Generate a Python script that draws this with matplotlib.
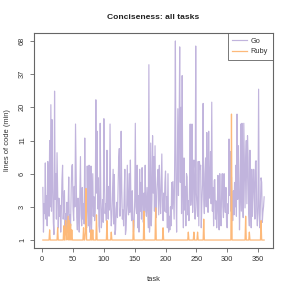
import numpy as np
import matplotlib
matplotlib.use("Agg")
import matplotlib.pyplot as plt

plt.rcParams['font.family'] = ['Liberation Sans', 'DejaVu Sans']

title = "Conciseness: all tasks"
xlabel = "task"
ylabel = "lines of code (min)"
ytick_labels = [1, 3, 6, 11, 20, 37, 68]
xticks = [0, 50, 100, 150, 200, 250, 300, 350]

go = [
    4.5, 1.3, 3.2, 2.4, 7.3, 2.0, 3.8, 1.6, 7.5, 5.0,
    2.2, 11.0, 3.0, 21.0, 2.6, 16.0, 4.5, 1.8, 1.2, 27.0,
    3.5, 6.0, 2.0, 8.8, 4.0, 1.5, 3.6, 2.2, 3.1, 1.3,
    2.6, 5.2, 7.0, 2.0, 3.0, 4.2, 1.5, 2.4, 1.2, 3.3,
    1.7, 2.9, 5.6, 1.4, 2.3, 1.6, 4.4, 6.9, 7.1, 2.8,
    1.9, 4.6, 3.0, 14.8, 6.0, 2.1, 1.4, 3.6, 2.5, 1.3,
    3.8, 8.2, 2.3, 1.6, 4.5, 2.0, 3.2, 1.7, 11.5, 3.0,
    2.4, 1.5, 6.9, 2.9, 1.6, 7.0, 1.3, 2.1, 6.9, 1.4,
    3.5, 6.0, 2.2, 3.7, 1.9, 2.6, 23.0, 4.0, 13.0, 2.8,
    5.5, 1.6, 1.3, 15.0, 4.0, 1.5, 2.2, 3.5, 1.8, 16.3,
    5.0, 2.4, 3.2, 1.9, 9.2, 3.6, 2.0, 4.6, 2.7, 14.8,
    3.0, 1.6, 2.3, 4.0, 6.5, 1.7, 5.9, 1.2, 1.4, 2.8,
    3.3, 2.1, 4.5, 7.7, 9.5, 2.2, 3.0, 13.0, 4.4, 2.0,
    2.7, 1.6, 4.0, 6.5, 1.2, 1.4, 2.9, 7.0, 3.1, 2.3,
    6.0, 2.5, 7.7, 3.0, 1.9, 4.2, 2.2, 1.3, 1.6, 3.4,
    15.0, 3.0, 2.4, 7.0, 1.5, 3.8, 1.3, 6.5, 2.6, 5.0,
    2.0, 6.7, 3.5, 1.8, 4.0, 2.5, 7.0, 3.0, 2.2, 4.5,
    2.8, 1.5, 44.0, 1.3, 2.0, 10.5, 1.6, 3.5, 12.0, 4.0,
    8.2, 2.6, 10.0, 3.0, 2.1, 4.3, 5.6, 6.5, 2.3, 7.0,
    3.8, 2.4, 4.7, 8.6, 3.0, 1.9, 4.0, 2.6, 5.0, 6.3,
    2.5, 3.7, 1.5, 6.0, 1.3, 2.2, 1.4, 3.0, 1.6, 5.0,
    2.8, 5.1, 3.5, 2.0, 9.0, 68.0, 4.5, 1.3, 7.0, 19.5,
    3.8, 12.0, 61.0, 5.0, 20.0, 2.4, 36.0, 4.0, 1.5, 8.0,
    2.7, 4.6, 1.6, 6.0, 5.6, 2.3, 3.4, 1.9, 5.0, 14.8,
    3.1, 4.0, 14.8, 2.5, 6.2, 7.7, 3.0, 2.0, 62.0, 4.0,
    3.0, 2.2, 7.5, 1.6, 7.5, 6.5, 7.0, 1.5, 3.3, 4.8,
    21.5, 3.5, 2.4, 6.0, 8.0, 3.0, 12.7, 4.0, 2.5, 13.0,
    3.6, 5.0, 9.0, 3.2, 22.0, 2.6, 4.5, 1.6, 5.2, 5.3,
    2.0, 3.4, 1.5, 2.8, 5.8, 2.0, 1.4, 6.0, 2.5, 1.6,
    4.0, 6.0, 3.0, 2.1, 6.0, 3.3, 2.5, 4.5, 1.8, 1.5,
    3.2, 2.4, 11.3, 3.8, 9.0, 2.6, 5.6, 3.0, 1.9, 4.2,
    2.3, 5.0, 3.0, 7.0, 2.2, 17.7, 3.5, 10.0, 5.0, 1.4,
    3.4, 14.8, 2.6, 15.0, 4.0, 2.1, 15.0, 7.0, 2.9, 7.6,
    11.0, 3.2, 12.0, 8.0, 2.4, 1.6, 9.2, 3.0, 1.5, 6.5,
    2.2, 3.6, 6.5, 4.5, 2.0, 7.5, 7.6, 2.6, 1.6, 3.0,
    28.0, 2.4, 1.5, 3.3, 5.5, 5.0, 1.8, 2.5, 3.0, 3.7,
]

# Ruby: value 1 everywhere except these tasks
ruby_spike_tasks = [12, 25, 35, 38, 39, 41, 42, 44, 46, 48, 67, 70, 71, 79, 82, 88,
                    105, 112, 148, 165, 184, 196, 237, 246, 252, 262, 307, 330, 336, 355]
ruby_spike_vals = [1.4, 1.5, 1.6, 1.9, 1.3, 1.5, 2.2, 1.9, 1.7, 1.4, 1.5, 1.3, 4.4, 1.4, 1.4, 2.3,
                   1.9, 1.3, 1.9, 2.6, 2.9, 1.5, 1.3, 1.3, 1.3, 2.0, 17.7, 2.2, 1.3, 1.9]

tasks = np.arange(1, len(go) + 1)
ruby = np.ones(len(go))
for t, v in zip(ruby_spike_tasks, ruby_spike_vals):
    ruby[t - 1] = v

logt = np.log(np.array(ytick_labels, dtype=float))
kpos = np.arange(len(ytick_labels), dtype=float)

def fwd(y):
    y = np.asarray(y, dtype=float)
    ly = np.log(np.clip(y, 1e-9, None))
    out = np.interp(ly, logt, kpos)
    lo = ly < logt[0]
    hi = ly > logt[-1]
    out = np.where(lo, (ly - logt[0]) / (logt[1] - logt[0]), out)
    out = np.where(hi, kpos[-1] + (ly - logt[-1]) / (logt[-1] - logt[-2]), out)
    return out

def inv(k):
    k = np.asarray(k, dtype=float)
    ly = np.interp(k, kpos, logt)
    ly = np.where(k < 0, logt[0] + k * (logt[1] - logt[0]), ly)
    ly = np.where(k > kpos[-1], logt[-1] + (k - kpos[-1]) * (logt[-1] - logt[-2]), ly)
    return np.exp(ly)

fig = plt.figure(figsize=(2.91, 2.91), dpi=100)
ax = fig.add_axes([34/291, 43/291, 239/291, 215/291])
ax.set_yscale('function', functions=(fwd, inv))

go_col = '#c1b4dd'
ruby_col = '#fdb97a'
ax.plot(tasks, go, color=go_col, lw=0.85, label='Go')
ax.plot(tasks, ruby, color=ruby_col, lw=0.9, label='Ruby')

pad = 0.04 * (len(go) - 1)
ax.set_xlim(1 - pad, len(go) + pad)
ax.set_ylim(inv(-0.24), inv(6.24))

ax.set_xticks(xticks)
ax.set_xticklabels([str(x) for x in xticks])
ax.set_yticks(ytick_labels)
ax.set_yticklabels([str(v) for v in ytick_labels], rotation=90, va='center')
ax.yaxis.set_minor_locator(matplotlib.ticker.NullLocator())
ax.xaxis.set_minor_locator(matplotlib.ticker.NullLocator())

for s in ax.spines.values():
    s.set_color('#666666')
    s.set_linewidth(0.8)
ax.tick_params(axis='both', colors='#666666', labelcolor='#333333', labelsize=5.3,
               length=3, width=0.6, pad=2.8)

ax.set_xlabel(xlabel, fontsize=5.4, color='#333333', labelpad=9)
ax.set_ylabel(ylabel, fontsize=5.4, color='#333333', labelpad=6)
ax.set_title(title, fontsize=6.1, fontweight='bold', color='#222222', pad=10)

leg = ax.legend(loc='upper right', fontsize=5.3, frameon=True, fancybox=False,
                borderaxespad=0, handlelength=2.0, borderpad=0.65, labelspacing=0.45,
                handletextpad=0.5)
leg.get_frame().set_edgecolor('#555555')
leg.get_frame().set_linewidth(0.7)
for t in leg.get_texts():
    t.set_color('#333333')

fig.savefig('out.png', dpi=100)
